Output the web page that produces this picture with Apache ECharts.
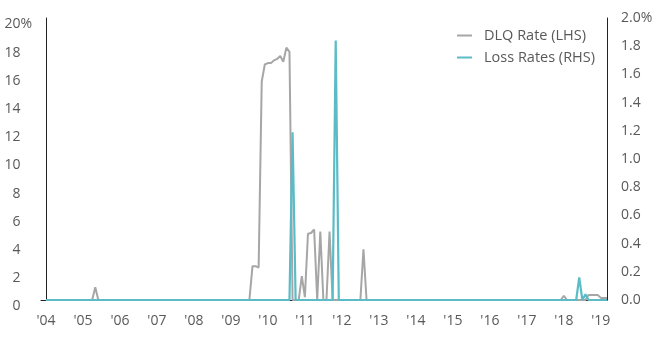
<!DOCTYPE html>
<html>
<head>
<meta charset="utf-8">
<script src="https://cdn.jsdelivr.net/npm/echarts@6/dist/echarts.min.js"></script>
<style>
  html, body { margin: 0; padding: 0; background: #fff; }
  #chart { width: 670px; height: 350px; }
</style>
</head>
<body>
<div id="chart"></div>
<script>
// Monthly observations, Jan 2004 .. Mar 2019 (one row per year)
const dlqRate = [
  0,0,0,0,0,0,0,0,0,0,0,0,                       // 2004
  0,0,0,0,0.9,0,0,0,0,0,0,0,                     // 2005
  0,0,0,0,0,0,0,0,0,0,0,0,                       // 2006
  0,0,0,0,0,0,0,0,0,0,0,0,                       // 2007
  0,0,0,0,0,0,0,0,0,0,0,0,                       // 2008
  0,0,0,0,0,0,0,2.4,2.4,2.3,15.5,16.7,           // 2009
  16.8,16.8,17.0,17.1,17.3,16.9,17.9,17.6,0,0,0,1.7, // 2010
  0.2,4.7,4.75,5.0,0,4.85,0,0,4.85,0,0,0,        // 2011
  0,0,0,0,0,0,0,3.6,0,0,0,0,                     // 2012
  0,0,0,0,0,0,0,0,0,0,0,0,                       // 2013
  0,0,0,0,0,0,0,0,0,0,0,0,                       // 2014
  0,0,0,0,0,0,0,0,0,0,0,0,                       // 2015
  0,0,0,0,0,0,0,0,0,0,0,0,                       // 2016
  0,0,0,0,0,0,0,0,0,0,0,0,                       // 2017
  0.3,0,0,0,0,0,0,0,0.35,0.35,0.35,0.35,         // 2018
  0.15,0.15,0.15                                 // 2019
];
const lossRate = [
  0,0,0,0,0,0,0,0,0,0,0,0,                       // 2004
  0,0,0,0,0,0,0,0,0,0,0,0,                       // 2005
  0,0,0,0,0,0,0,0,0,0,0,0,                       // 2006
  0,0,0,0,0,0,0,0,0,0,0,0,                       // 2007
  0,0,0,0,0,0,0,0,0,0,0,0,                       // 2008
  0,0,0,0,0,0,0,0,0,0,0,0,                       // 2009
  0,0,0,0,0,0,0,0,1.19,0,0,0,                    // 2010
  0,0,0,0,0,0,0,0,0,0,1.84,0,                    // 2011
  0,0,0,0,0,0,0,0,0,0,0,0,                       // 2012
  0,0,0,0,0,0,0,0,0,0,0,0,                       // 2013
  0,0,0,0,0,0,0,0,0,0,0,0,                       // 2014
  0,0,0,0,0,0,0,0,0,0,0,0,                       // 2015
  0,0,0,0,0,0,0,0,0,0,0,0,                       // 2016
  0,0,0,0,0,0,0,0,0,0,0,0,                       // 2017
  0,0,0,0,0,0.16,0,0.04,0,0,0,0,                 // 2018
  0,0,0                                          // 2019
];
const yearTickLabels = ["'04","'05","'06","'07","'08","'09","'10","'11","'12","'13","'14","'15","'16","'17","'18","'19"];
const yearTickMonthIndex = [0,12,24,36,48,60,72,84,96,108,120,132,144,156,168,180];

const FONT = 'Open Sans';
const TXT = '#595959';

const chart = echarts.init(document.getElementById('chart'), null, { renderer: 'canvas' });
chart.setOption({
  animation: false,
  backgroundColor: '#fff',
  textStyle: { fontFamily: FONT },
  grid: { left: 41, right: 63, top: 18, bottom: 50 },
  legend: {
    orient: 'vertical',
    left: 452,
    top: 22,
    icon: 'rect',
    itemWidth: 15,
    itemHeight: 2,
    itemGap: 5,
    textStyle: { fontFamily: FONT, fontSize: 14.5, color: TXT, padding: [0, 0, 0, 7], lineHeight: 17 },
    data: ['DLQ Rate (LHS)', 'Loss Rates (RHS)']
  },
  xAxis: {
    type: 'value',
    min: -1.6,
    max: 182,
    splitLine: { show: false },
    axisTick: { show: false },
    axisLine: { show: true, onZero: false, lineStyle: { color: '#222', width: 1 } },
    axisLabel: {
      customValues: yearTickMonthIndex,
      formatter: (v) => yearTickLabels[yearTickMonthIndex.indexOf(Math.round(v))] || '',
      fontFamily: FONT, fontSize: 14, color: TXT, margin: 14
    }
  },
  yAxis: [
    {
      type: 'value', position: 'left', min: 0, max: 20, interval: 2,
      splitLine: { show: false },
      axisTick: { show: false },
      axisLine: { show: true, lineStyle: { color: '#222', width: 1 } },
      axisLabel: {
        fontFamily: FONT, fontSize: 14, color: TXT, margin: 9,
        padding: [13, 0, 0, 0],
        formatter: (v) => v === 20 ? '20{p|%}' : v + '{h|%}',
        rich: {
          p: { fontFamily: FONT, fontSize: 14, color: TXT },
          h: { fontFamily: FONT, fontSize: 14, color: 'rgba(0,0,0,0)' }
        }
      }
    },
    {
      type: 'value', position: 'right', min: 0, max: 2, interval: 0.2,
      splitLine: { show: false },
      axisTick: { show: false },
      axisLine: { show: true, lineStyle: { color: '#222', width: 1 } },
      axisLabel: {
        fontFamily: FONT, fontSize: 14, color: TXT, margin: 14,
        padding: [11, 0, 0, 0],
        formatter: (v) => v.toFixed(1) + (Math.abs(v - 2) < 1e-9 ? '%' : '')
      }
    }
  ],
  series: [
    {
      name: 'DLQ Rate (LHS)', type: 'line', yAxisIndex: 0,
      symbol: 'none', showSymbol: false,
      lineStyle: { color: '#a6a6a6', width: 2 },
      itemStyle: { color: '#a6a6a6' },
      data: dlqRate.map((v, i) => [i, v])
    },
    {
      name: 'Loss Rates (RHS)', type: 'line', yAxisIndex: 1,
      symbol: 'none', showSymbol: false,
      lineStyle: { color: '#5bbcc7', width: 2.2 },
      itemStyle: { color: '#5bbcc7' },
      data: lossRate.map((v, i) => [i, v])
    }
  ]
});
</script>
</body>
</html>
